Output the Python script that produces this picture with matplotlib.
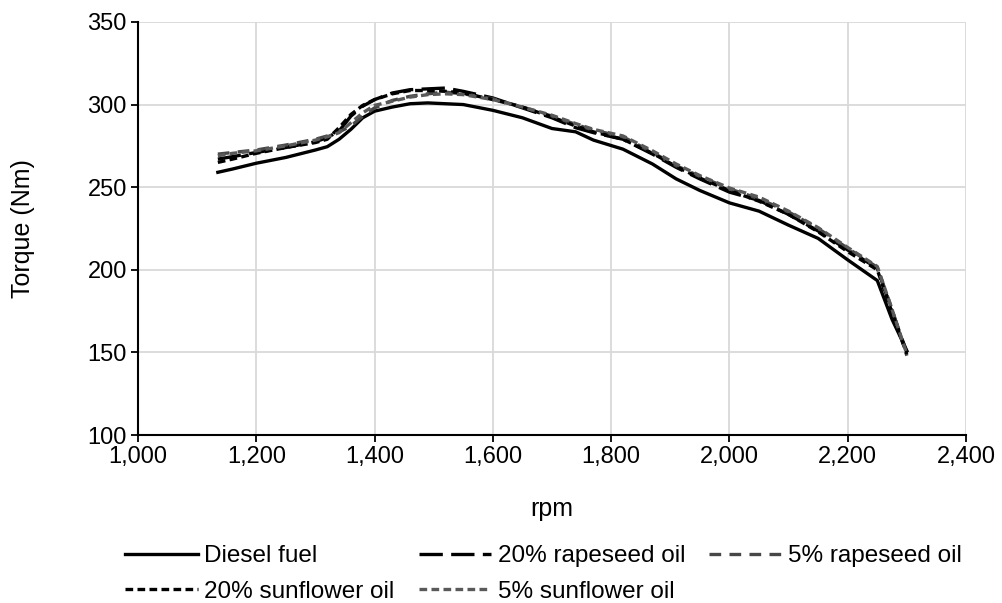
import matplotlib
matplotlib.use("Agg")
import matplotlib.pyplot as plt

plt.rcParams['font.family'] = ['Liberation Sans', 'DejaVu Sans']

# Engine speed (rpm) and torque (Nm) for each fuel
rpm = [1135, 1160, 1200, 1250, 1300, 1320, 1340, 1360, 1380, 1400, 1430, 1460,
       1490, 1520, 1550, 1600, 1650, 1700, 1740, 1770, 1820, 1870, 1910, 1950,
       2000, 2050, 2100, 2150, 2200, 2250, 2275, 2300]

diesel = [259, 261, 264.5, 268, 272.5, 274.5, 279, 285, 292, 296, 298.5, 300.5,
          301, 300.5, 300, 296.5, 292, 285.5, 283.5, 278.5, 273, 264, 255, 248,
          240.5, 235.5, 227, 219, 206, 193.5, 170, 151]

rapeseed_20 = [267, 268.5, 271, 274, 277.5, 280, 284, 293, 299, 303, 307, 309,
               309.5, 310, 308, 304, 298, 292, 286, 283, 279, 270, 262, 255,
               247, 242, 233.5, 223.5, 212, 201, 175, 150]

rapeseed_5 = [270, 271, 272.5, 275.5, 279, 281, 283.5, 287, 293, 298, 302.5, 305,
              306.5, 307.5, 306.5, 303.5, 298.5, 293, 288, 284.5, 280.5, 271, 263, 256.5,
              249, 243, 235, 225, 213, 201.5, 176, 148]

sunflower_20 = [265, 267, 270.5, 274, 277, 279, 286, 294, 299.5, 303, 306.5, 308.5,
                308.5, 308, 307, 303, 298.5, 292.5, 287, 283.5, 279, 270.5, 262.5, 255.5,
                248, 241.5, 233.5, 223, 211, 200, 174, 149]

sunflower_5 = [269, 270.5, 272, 275, 278.5, 280.5, 283, 289, 295, 299.5, 302, 304.5,
               306, 306.5, 306, 303, 298.5, 293.5, 288.5, 285, 281, 272, 264, 257,
               249.5, 244, 235.5, 225.5, 213.5, 202, 176, 149]

fig = plt.figure(figsize=(10.03, 6.03), dpi=100)
ax = fig.add_axes([0.1376, 0.2786, 0.8255, 0.685])

lw = 2.4
h_d, = ax.plot(rpm, diesel, color='black', lw=lw, label='Diesel fuel')
h_r20, = ax.plot(rpm, rapeseed_20, color='black', lw=lw, dashes=(7, 2.5), label='20% rapeseed oil')
h_r5, = ax.plot(rpm, rapeseed_5, color='#474747', lw=lw, dashes=(3.5, 2.5), label='5% rapeseed oil')
h_s20, = ax.plot(rpm, sunflower_20, color='black', lw=lw, dashes=(2.3, 1.3), label='20% sunflower oil')
h_s5, = ax.plot(rpm, sunflower_5, color='#595959', lw=lw, dashes=(2.3, 1.3), label='5% sunflower oil')

ax.set_xlim(1000, 2400)
ax.set_ylim(100, 350)
ax.set_xticks(range(1000, 2401, 200))
ax.set_yticks(range(100, 351, 50))
ax.xaxis.set_major_formatter(matplotlib.ticker.FuncFormatter(lambda v, p: f"{int(v):,}"))

ax.grid(True, color='#d9d9d9', lw=1.3)
ax.set_axisbelow(True)
for s in ['top', 'right']:
    ax.spines[s].set_visible(False)
for s in ['left', 'bottom']:
    ax.spines[s].set_linewidth(1.5)
ax.tick_params(direction='out', length=5, width=1.3, labelsize=17, pad=3)

ax.set_xlabel('rpm', fontsize=18)
ax.xaxis.set_label_coords(0.5, -0.15)
ax.set_ylabel('Torque (Nm)', fontsize=18)
ax.yaxis.set_label_coords(-0.125, 0.5)

# legend filled row by row: Diesel, 20% rape, 5% rape / 20% sun, 5% sun
order = [h_d, h_s20, h_r20, h_s5, h_r5]
fig.legend(handles=order, labels=[h.get_label() for h in order],
           loc='center left', bbox_to_anchor=(0.1246, 0.048), ncol=3, frameon=False,
           fontsize=17.5, handlelength=3.0, handletextpad=0.25, columnspacing=1.0,
           labelspacing=0.55, borderpad=0, borderaxespad=0)

plt.savefig('out.png', dpi=100)
